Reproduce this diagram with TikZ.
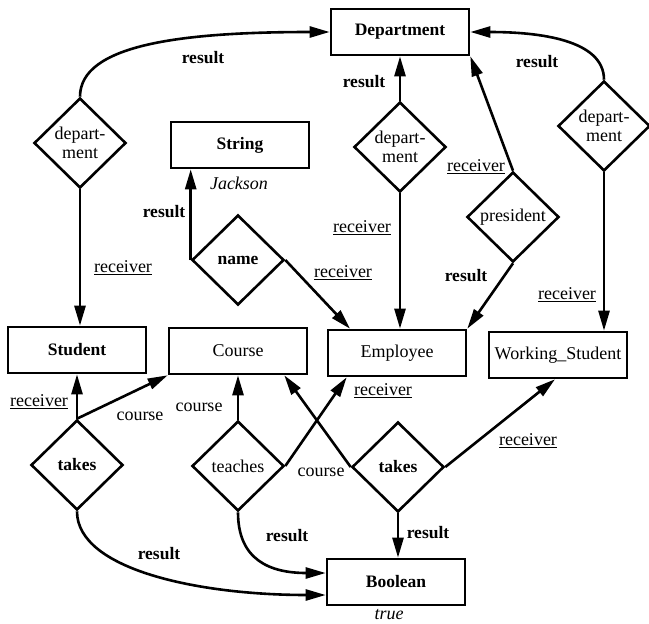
\documentclass[tikz,border=0pt]{standalone}
\usepackage{fontspec}
\setmainfont{Liberation Serif}
\usetikzlibrary{shapes.geometric,arrows.meta}
\begin{document}
\begin{tikzpicture}[x=1pt,y=-1pt,
  every node/.style={font=\fontsize{18}{19}\selectfont},
  heavy/.style={font=\fontsize{17.5}{19}\selectfont\bfseries},
  entity/.style={draw, line width=2.6pt, minimum width=138pt, minimum height=46pt, inner sep=0pt},
  rel/.style={draw, diamond, line width=2.6pt, minimum width=92pt, minimum height=90pt, inner sep=0pt, align=center},
  link/.style={line width=2.6pt, -{Triangle[length=20pt,width=11pt]}},
  lbl/.style={inner sep=0pt},
  rcv/.style={inner sep=0pt},
]
\useasboundingbox (0,0) rectangle (649,624);

% classes
\node[entity, heavy] (dep)  at (400,32)  {Department};
\node[entity, heavy] (str)  at (240,145) {String};
\node[entity, heavy] (stu)  at (77,350)  {Student};
\node[entity]        (crs)  at (238,351) {Course};
\node[entity]        (emp)  at (397,353) {Employee};
\node[entity]        (ws)   at (558,355) {Working\_Student};
\node[entity, heavy] (bool) at (396,582) {Boolean};

% methods
\node[rel]        (ld) at (80,143)  {depart-\\ment};
\node[rel, heavy] (nm) at (238,260) {name};
\node[rel]        (md) at (400,147) {depart-\\ment};
\node[rel]        (pr) at (513,217) {president};
\node[rel]        (rd) at (604,126) {depart-\\ment};
\node[rel, heavy] (tl) at (77,465)  {takes};
\node[rel]        (te) at (238,466) {teaches};
\node[rel, heavy] (tr) at (398,467) {takes};

% result and argument links
\draw[link] (ld.north) .. controls (80,45) and (180,32) .. (dep.west);
\draw[link] (rd.north) .. controls (604,40) and (540,32) .. (dep.east);
\draw[link] (ld.south) -- (ld.south |- stu.north);
\draw[link] (nm.west) -- (nm.west |- str.south);
\draw[link] (nm.east) -- ([xshift=-47pt]emp.north);
\draw[link] (md.north) -- (dep.south);
\draw[link] (md.south) -- (md.south |- emp.north);
\draw[link] (pr.north) -- (dep.south east);
\draw[link] (pr.south) -- (emp.north east);
\draw[link] (rd.south) -- (rd.south |- ws.north);
\draw[link] (tl.north) -- (stu.south);
\draw[link] (tl.north) -- (crs.south west);
\draw[link] (te.north) -- (crs.south);
\draw[link] (te.east) -- ([xshift=20pt]emp.south west);
\draw[link] (tr.west) -- ([xshift=-24pt]crs.south east);
\draw[link] (tr.east) -- ([xshift=-3pt]ws.south);
\draw[link] (tr.south) -- (tr.south |- bool.north);
\draw[link] (tl.south) .. controls (77,570) and (200,595) .. ([yshift=-13pt]bool.west);
\draw[link] (te.south) .. controls (238,560) and (270,573) .. ([yshift=9pt]bool.west);

% labels
\node[lbl, heavy] (r1)  at (203,58)  {result};
\node[lbl, heavy] (r2)  at (364,82)  {result};
\node[lbl, heavy] (r3)  at (537,62)  {result};
\node[lbl, heavy] (r4)  at (164,212) {result};
\node[lbl, heavy] (r5)  at (466,276) {result};
\node[lbl, heavy] (r6)  at (159,554) {result};
\node[lbl, heavy] (r7)  at (287,536) {result};
\node[lbl, heavy] (r8)  at (428,533) {result};
\node[rcv] (c1) at (123,268) {\underline{receiver}};
\node[rcv] (c2) at (343,273) {\underline{receiver}};
\node[rcv] (c3) at (362,228) {\underline{receiver}};
\node[rcv] (c4) at (476,167) {\underline{receiver}};
\node[rcv] (c5) at (567,295) {\underline{receiver}};
\node[rcv] (c6) at (39,402)  {\underline{receiver}};
\node[rcv] (c7) at (383,391) {\underline{receiver}};
\node[rcv] (c8) at (528,441) {\underline{receiver}};
\node[lbl] (k1) at (140,416) {course};
\node[lbl] (k2) at (199,407) {course};
\node[lbl] (k3) at (321,472) {course};
\node[lbl, font=\fontsize{18}{19}\selectfont\itshape] (v1) at (239,183) {Jackson};
\node[lbl, font=\fontsize{18}{19}\selectfont\itshape] (v2) at (389,615) {true};
\end{tikzpicture}
\end{document}
